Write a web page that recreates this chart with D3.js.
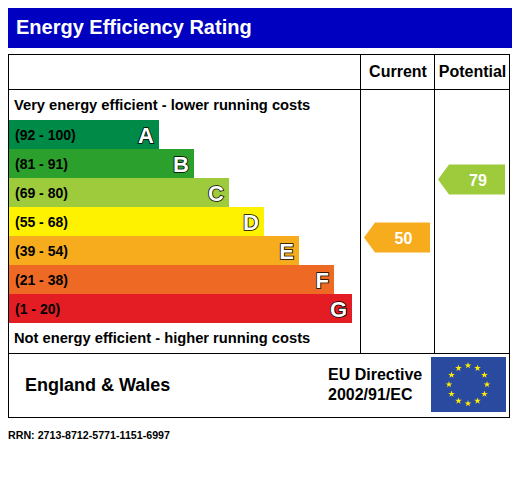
<!DOCTYPE html>
<html>
<head>
<meta charset="utf-8">
<script src="https://cdn.jsdelivr.net/npm/d3@7"></script>
<style>
  body { margin: 0; background: #fff; }
  svg text { font-family: "Liberation Sans", Arial, sans-serif; font-weight: bold; }
</style>
</head>
<body>
<div id="chart"></div>
<script>
// Energy efficiency rating chart (EPC style)

const bands = ['A', 'B', 'C', 'D', 'E', 'F', 'G'];
const bandRanges = ['(92 - 100)', '(81 - 91)', '(69 - 80)', '(55 - 68)', '(39 - 54)', '(21 - 38)', '(1 - 20)'];
const bandMin = [92, 81, 69, 55, 39, 21, 1];
const bandColors = ['#008a47', '#2ca02c', '#9dcb3c', '#fff200', '#f7ac1e', '#ee6a24', '#e31d23'];
const columns = ['Current', 'Potential'];
const ratings = [50, 79];
const directive = ['EU Directive', '2002/91/EC'];
const region = 'England & Wales';
const rrn = 'RRN: 2713-8712-5771-1151-6997';

const width = 515, height = 500;
const frameLeft = 8, frameRight = 509, frameTop = 54, frameBottom = 417;
const headRow = 89, footRow = 353;
const colX = [360, 434, frameRight];

const svg = d3.select('#chart').append('svg')
  .attr('width', width)
  .attr('height', height);

// title bar
svg.append('rect')
  .attr('x', 8).attr('y', 8)
  .attr('width', 504).attr('height', 40)
  .attr('fill', '#0000c0');
svg.append('text')
  .attr('x', 16).attr('y', 34)
  .attr('fill', '#fff')
  .style('font-size', '20px')
  .text('Energy Efficiency Rating');

// scales
const y = d3.scaleBand().domain(bands).range([120, 323]).paddingInner(0);
const barLen = d3.scaleLinear().domain([0, 5]).range([150, 325]);
const maxBar = 343;
const bandOf = v => bands[bandMin.findIndex(m => v >= m)];

// bars
const bar = svg.append('g')
  .selectAll('g')
  .data(bands)
  .join('g')
  .attr('transform', d => `translate(${frameLeft + 1},${y(d)})`);

bar.append('rect')
  .attr('width', (d, i) => Math.min(barLen(i), maxBar))
  .attr('height', y.bandwidth())
  .attr('fill', (d, i) => bandColors[i]);

bar.append('text')
  .attr('x', 6)
  .attr('y', y.bandwidth() / 2 + 5)
  .attr('fill', '#000')
  .style('font-size', '14px')
  .text((d, i) => bandRanges[i]);

bar.append('text')
  .attr('x', (d, i) => Math.min(barLen(i), maxBar) - 5)
  .attr('y', y.bandwidth() / 2 + 8)
  .attr('text-anchor', 'end')
  .attr('fill', '#fff')
  .attr('stroke', '#000')
  .attr('stroke-width', 1.6)
  .attr('paint-order', 'stroke')
  .style('font-size', '22px')
  .text(d => d);

// captions
svg.append('text')
  .attr('x', 14).attr('y', 110)
  .style('font-size', '14.7px')
  .text('Very energy efficient - lower running costs');
svg.append('text')
  .attr('x', 14).attr('y', 343)
  .style('font-size', '14.7px')
  .text('Not energy efficient - higher running costs');

// frame
const grid = svg.append('g').attr('stroke', '#000').attr('fill', 'none');
grid.append('rect')
  .attr('x', frameLeft + 0.5).attr('y', frameTop + 0.5)
  .attr('width', frameRight - frameLeft).attr('height', frameBottom - frameTop);
grid.append('line')
  .attr('x1', frameLeft).attr('x2', frameRight)
  .attr('y1', headRow + 0.5).attr('y2', headRow + 0.5);
grid.append('line')
  .attr('x1', frameLeft).attr('x2', frameRight)
  .attr('y1', footRow + 0.5).attr('y2', footRow + 0.5);
colX.slice(0, 2).forEach(x => {
  grid.append('line')
    .attr('x1', x + 0.5).attr('x2', x + 0.5)
    .attr('y1', frameTop).attr('y2', footRow);
});

// column heads
svg.append('g')
  .selectAll('text')
  .data(columns)
  .join('text')
  .attr('x', (d, i) => (colX[i] + colX[i + 1]) / 2 + 1)
  .attr('y', 77)
  .attr('text-anchor', 'middle')
  .style('font-size', '16px')
  .text(d => d);

// rating arrows
const arrowH = 30, tip = 11;
const arrow = svg.append('g')
  .selectAll('g')
  .data(ratings)
  .join('g')
  .attr('transform', (d, i) => `translate(${colX[i] + 4},${y(bandOf(d)) + 1.5 - arrowH / 2})`);

arrow.append('path')
  .attr('d', (d, i) => {
    const w = colX[i + 1] - colX[i] - 8;
    return `M0,${arrowH / 2}L${tip},0H${w}V${arrowH}H${tip}Z`;
  })
  .attr('fill', d => bandColors[bands.indexOf(bandOf(d))]);

arrow.append('text')
  .attr('x', (d, i) => (tip + colX[i + 1] - colX[i] - 8) / 2 + 1)
  .attr('y', arrowH / 2 + 6)
  .attr('text-anchor', 'middle')
  .attr('fill', '#fff')
  .style('font-size', '16px')
  .text(d => d);

// footer
svg.append('text')
  .attr('x', 25).attr('y', 391)
  .style('font-size', '18px')
  .text(region);

svg.append('g')
  .selectAll('text')
  .data(directive)
  .join('text')
  .attr('x', 328)
  .attr('y', (d, i) => 380 + i * 19.5)
  .style('font-size', '16px')
  .text(d => d);

// EU flag
const flag = svg.append('g').attr('transform', 'translate(431,357)');
flag.append('rect')
  .attr('width', 75).attr('height', 55)
  .attr('fill', '#2a4aa0');

const star = d3.symbol().type(d3.symbolStar).size(14);
flag.selectAll('path')
  .data(d3.range(12))
  .join('path')
  .attr('d', star)
  .attr('fill', '#ffec00')
  .attr('transform', d => {
    const a = d * Math.PI / 6;
    return `translate(${37 + 19 * Math.sin(a)},${27.5 - 19 * Math.cos(a)})`;
  });

// reference number
svg.append('text')
  .attr('x', 8).attr('y', 438.5)
  .attr('textLength', 162)
  .attr('lengthAdjust', 'spacingAndGlyphs')
  .style('font-size', '10px')
  .text(rrn);
</script>
</body>
</html>
